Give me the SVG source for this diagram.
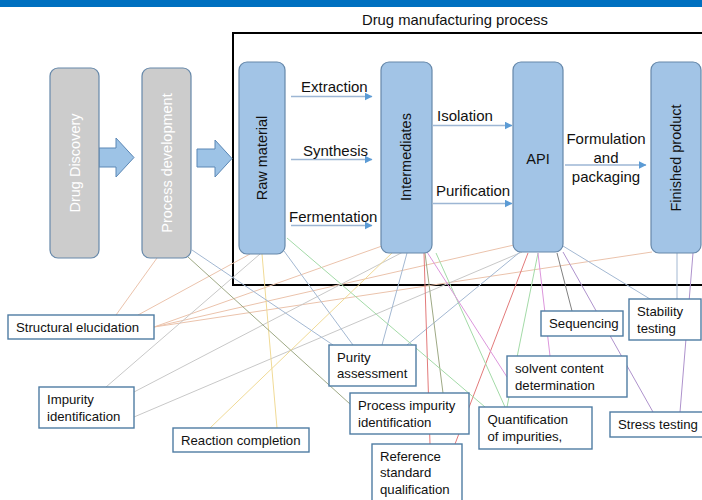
<svg xmlns="http://www.w3.org/2000/svg" width="702" height="500" viewBox="0 0 702 500">
<defs>
<marker id="ah" viewBox="0 0 8 8" refX="7.5" refY="4" markerWidth="8" markerHeight="8" markerUnits="userSpaceOnUse" orient="auto">
<path d="M0,0 L8,4 L0,8 Z" fill="#5B9BD5"/>
</marker>
<style>
text{font-family:"Liberation Sans",Arial,sans-serif;fill:#111}
.gray rect{fill:#CCCCCC;stroke:#6688AA;stroke-width:1.2}
.gray text{fill:#fff;font-size:14.5px}
.blue rect{fill:#A2C4E6;stroke:#6688AA;stroke-width:1.2}
.blue text{font-size:14.5px}
.lbl rect{fill:#fff;stroke:#4F7CA3;stroke-width:1.4}
.lbl text{font-size:13.2px}
.el{font-size:15px}
.flow{stroke:#9DB6D4;stroke-width:1.5;fill:none;marker-end:url(#ah)}
.blk{fill:#9DC3E6;stroke:#5B87B5;stroke-width:1}
#connectors line{stroke-width:1;fill:none}
.pe{stroke:#EBC3AC}.gy{stroke:#C8C8C8}.ye{stroke:#F0DA96}.bl{stroke:#A3B8D2}
.ol{stroke:#9EA985}.rd{stroke:#E27A7A}.gr{stroke:#A3DAA7}.pk{stroke:#DC96DC}
.dg{stroke:#808080}.pu{stroke:#AE92CC}
</style>
</defs>
<rect x="0" y="0" width="702" height="7" fill="#0070C0"/>
<text x="362" y="25" style="font-size:14.8px">Drug manufacturing process</text>
<path d="M702 33 H233 V285 H702" fill="none" stroke="#000" stroke-width="2"/>

<g id="connectors">
<line class="pe" x1="116" y1="315" x2="157" y2="258"/>
<line class="pe" x1="138" y1="315" x2="250" y2="254"/>
<line class="pe" x1="154" y1="327" x2="382" y2="246"/>
<line class="pe" x1="154" y1="327" x2="514" y2="245"/>
<line class="pe" x1="154" y1="327" x2="652" y2="252"/>
<line class="gy" x1="106" y1="387" x2="260" y2="254"/>
<line class="gy" x1="134" y1="392" x2="403" y2="252"/>
<line class="gy" x1="134" y1="417" x2="522" y2="252"/>
<line class="ye" x1="210" y1="428" x2="393" y2="252"/>
<line class="ye" x1="277" y1="428" x2="262" y2="254"/>
<line class="bl" x1="333" y1="345" x2="192" y2="250"/>
<line class="bl" x1="353" y1="345" x2="284" y2="251"/>
<line class="bl" x1="382" y1="345" x2="407" y2="253"/>
<line class="bl" x1="407" y1="345" x2="520" y2="252"/>
<line class="ol" x1="350" y1="404" x2="188" y2="257"/>
<line class="ol" x1="443" y1="393" x2="425" y2="253"/>
<line class="rd" x1="430" y1="444" x2="424" y2="253"/>
<line class="rd" x1="455" y1="444" x2="528" y2="253"/>
<line class="gr" x1="485" y1="407" x2="287" y2="238"/>
<line class="gr" x1="505" y1="407" x2="436" y2="253"/>
<line class="gr" x1="507" y1="407" x2="538" y2="253"/>
<line class="pk" x1="507" y1="377" x2="427" y2="252"/>
<line class="pk" x1="550" y1="356" x2="538" y2="253"/>
<line class="dg" x1="572" y1="311" x2="557" y2="253"/>
<line class="bl" x1="650" y1="299" x2="563" y2="246"/>
<line class="bl" x1="677" y1="299" x2="677" y2="253"/>
<line class="pu" x1="653" y1="412" x2="563" y2="252"/>
<line class="pu" x1="680" y1="412" x2="693" y2="253"/>
</g>

<g id="flows">
<path class="blk" d="M99 148 H116 V138 L134 157.5 L116 177 V167 H99 Z"/>
<path class="blk" d="M197 149 H215 V140 L232 158.5 L215 177 V167 H197 Z"/>
<line class="flow" x1="291" y1="96.5" x2="372" y2="96.5"/>
<line class="flow" x1="291" y1="159.5" x2="372" y2="159.5"/>
<line class="flow" x1="291" y1="225.5" x2="372" y2="225.5"/>
<line class="flow" x1="433" y1="125.5" x2="512" y2="125.5"/>
<line class="flow" x1="433" y1="203.5" x2="512" y2="203.5"/>
<line class="flow" x1="565" y1="165" x2="646" y2="165"/>
<text class="el" x="301" y="92">Extraction</text>
<text class="el" x="303" y="156">Synthesis</text>
<text class="el" x="289" y="222">Fermentation</text>
<text class="el" x="437" y="121">Isolation</text>
<text class="el" x="436" y="196">Purification</text>
<text class="el" x="606" y="143.5" text-anchor="middle">Formulation</text>
<text class="el" x="606" y="163" text-anchor="middle">and</text>
<text class="el" x="606" y="181.5" text-anchor="middle">packaging</text>
</g>

<g id="drug-discovery" class="gray">
<rect x="50" y="68" width="49" height="190" rx="8"/>
<text transform="translate(75,163) rotate(-90)" text-anchor="middle" dominant-baseline="central">Drug Discovery</text>
</g>
<g id="process-development" class="gray">
<rect x="142" y="68" width="49" height="190" rx="8"/>
<text transform="translate(167,163) rotate(-90)" text-anchor="middle" dominant-baseline="central">Process development</text>
</g>
<g id="raw-material" class="blue">
<rect x="239" y="62" width="46" height="192" rx="8"/>
<text transform="translate(262,158) rotate(-90)" text-anchor="middle" dominant-baseline="central">Raw material</text>
</g>
<g id="intermediates" class="blue">
<rect x="381" y="62" width="51" height="191" rx="8"/>
<text transform="translate(406,157) rotate(-90)" text-anchor="middle" dominant-baseline="central">Intermediates</text>
</g>
<g id="api" class="blue">
<rect x="513" y="62" width="50" height="190" rx="8"/>
<text x="538" y="163.5" text-anchor="middle">API</text>
</g>
<g id="finished-product" class="blue">
<rect x="651" y="62" width="50" height="191" rx="8"/>
<text transform="translate(676,158) rotate(-90)" text-anchor="middle" dominant-baseline="central">Finished product</text>
</g>

<g id="structural-elucidation" class="lbl">
<rect x="8" y="315" width="146" height="24"/>
<text x="16" y="331.5">Structural elucidation</text>
</g>
<g id="impurity-identification" class="lbl">
<rect x="39" y="387" width="95" height="41"/>
<text x="47" y="404">Impurity</text>
<text x="47" y="420.5">identification</text>
</g>
<g id="reaction-completion" class="lbl">
<rect x="173" y="428" width="136" height="24"/>
<text x="181" y="444.5">Reaction completion</text>
</g>
<g id="purity-assessment" class="lbl">
<rect x="329" y="345" width="87" height="41"/>
<text x="337" y="361.5">Purity</text>
<text x="337" y="378">assessment</text>
</g>
<g id="reference-standard" class="lbl">
<rect x="372" y="444" width="90" height="70"/>
<text x="380" y="460.5">Reference</text>
<text x="380" y="477">standard</text>
<text x="380" y="493.5">qualification</text>
</g>
<g id="process-impurity" class="lbl">
<rect x="350" y="393" width="119" height="41"/>
<text x="358" y="410">Process impurity</text>
<text x="358" y="426.5">identification</text>
</g>
<g id="quantification" class="lbl">
<rect x="479" y="407" width="113" height="42"/>
<text x="487.5" y="424">Quantification</text>
<text x="487.5" y="441">of impurities,</text>
</g>
<g id="solvent-content" class="lbl">
<rect x="507" y="356" width="120" height="41"/>
<text x="515" y="372.5">solvent content</text>
<text x="515" y="389.5">determination</text>
</g>
<g id="sequencing" class="lbl">
<rect x="541" y="311" width="82" height="25"/>
<text x="549" y="327.5">Sequencing</text>
</g>
<g id="stability-testing" class="lbl">
<rect x="629" y="299" width="72" height="41"/>
<text x="637" y="315.5">Stability</text>
<text x="637" y="332.5">testing</text>
</g>
<g id="stress-testing" class="lbl">
<rect x="610" y="412" width="95" height="25"/>
<text x="618" y="428.5">Stress testing</text>
</g>
</svg>
